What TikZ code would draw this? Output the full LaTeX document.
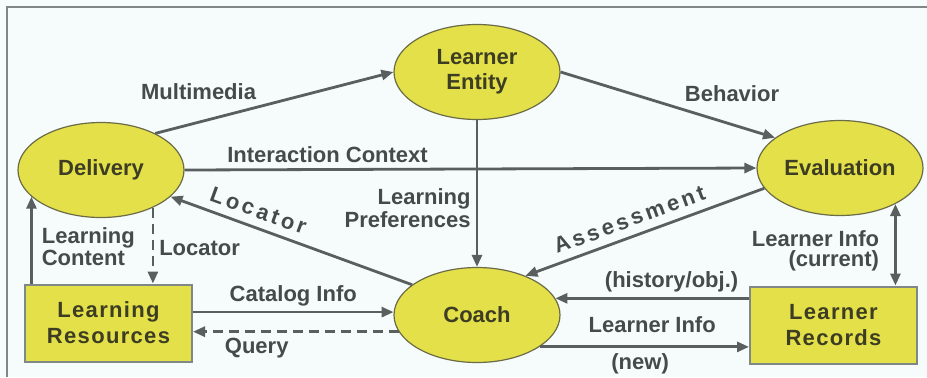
\documentclass[tikz,border=0pt]{standalone}
\usepackage{fontspec}
\setmainfont{Liberation Sans}
\usepackage{tikz}
\usetikzlibrary{shapes.geometric, arrows.meta, positioning}
\definecolor{framegray}{rgb}{0.50,0.53,0.53}
\definecolor{paperbg}{rgb}{0.965,0.99,0.985}
\definecolor{nodefill}{rgb}{0.89,0.88,0.29}
\definecolor{nodeline}{rgb}{0.42,0.42,0.28}
\definecolor{linegray}{rgb}{0.35,0.37,0.37}
\definecolor{textgray}{rgb}{0.27,0.29,0.29}
\definecolor{nodetext}{rgb}{0.24,0.24,0.14}

\begin{document}
\begin{tikzpicture}[x=0.5pt, y=-0.5pt,
    ell/.style={ellipse, draw=nodeline, line width=0.6pt, fill=nodefill, inner sep=0pt, minimum width=83pt, minimum height=47.5pt, align=center, font=\fontsize{11}{12.5}\selectfont\bfseries, text=nodetext},
    box/.style={rectangle, draw=framegray, line width=1pt, fill=nodefill, inner sep=0pt, minimum width=83.5pt, minimum height=38.5pt, align=center, font=\fontsize{11}{13}\selectfont\bfseries\addfontfeature{LetterSpace=6}, text=nodetext},
    arrow/.style={-{Triangle[length=6pt, width=5pt]}, line width=1.4pt, draw=linegray},
    dblarrow/.style={arrow, {Triangle[length=6pt, width=5pt]}-{Triangle[length=6pt, width=5pt]}},
    dashline/.style={dash pattern={on 5pt off 3pt}},
    lbl/.style={font=\fontsize{11}{10}\selectfont\bfseries, text=textgray, align=center, inner sep=2.5pt},
    spaced/.style={font=\fontsize{11}{10}\selectfont\bfseries\addfontfeature{LetterSpace=15}, inner sep=1pt}
]

% paper and frame
\fill[paperbg] (0,0) rectangle (927,377);
\useasboundingbox (0,0) rectangle (927,377);
\draw[framegray, line width=1pt] (7,377) -- (7,7) -- (927,7);

\node[ell] (delivery) at (101,170) {Delivery};
\node[ell] (learner) at (477,72) {Learner\\Entity};
\node[ell] (evaluation) at (840,168) {Evaluation};
\node[ell] (coach) at (477,315) {Coach};

\node[box] (resources) at (108.5,323) {Learning\\Resources};
\node[box] (records) at (833.5,325) {Learner\\Records};

\draw[arrow] (delivery.34) -- node[lbl, pos=0.45, above left] {Multimedia} (learner.west);
\draw[arrow] (learner.east) -- node[lbl, pos=0.55, above right] {Behavior} (evaluation.155);
\draw[arrow] (delivery.east) -- node[lbl, pos=0.25, above] {Interaction Context} (evaluation.west);
\draw[arrow] (learner.south) -- node[lbl, pos=0.6, left, align=right] {Learning\\Preferences} (coach.north);
\draw[arrow] (coach.155) -- node[lbl, spaced, pos=0.66, sloped, above=3pt] {Locator} (delivery.-21);
\draw[arrow] (evaluation.195) -- node[lbl, spaced, pos=0.54, sloped, above=3pt] {Assessment} (coach.39);
\draw[dblarrow] (evaluation.-33) -- node[lbl, pos=0.58, left, xshift=-5pt, align=right] {Learner Info\\(current)} (evaluation.-33 |- records.north);

\draw[arrow] (records.west |- coach.12) -- node[lbl, pos=0.4, above] {(history/obj.)} node[lbl, pos=0.5, below=6pt] {Learner Info} (coach.12);
\draw[arrow] (coach.-27) -- node[lbl, pos=0.48, below] {(new)} (coach.-27 -| records.west);
\draw[arrow] (resources.east |- coach.178) -- node[lbl, pos=0.5, above] {Catalog Info} (coach.178);
\draw[arrow, dashline] (coach.192) -- node[lbl, pos=0.69, below] {Query} (coach.192 -| resources.east);
\draw[arrow] (delivery.201 |- resources.north) -- node[lbl, pos=0.42, right, xshift=2pt, align=left] {Learning\\Content} (delivery.201);
\draw[arrow, dashline] (delivery.-36) -- node[lbl, pos=0.53, right] {Locator} (delivery.-36 |- resources.north);

\end{tikzpicture}
\end{document}
